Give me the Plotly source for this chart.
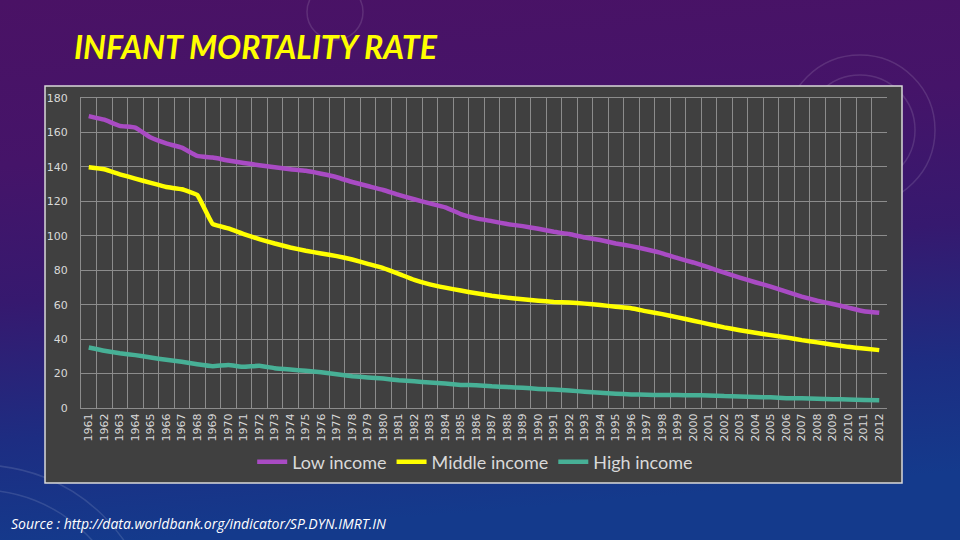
import base64
import plotly.graph_objects as go

years = [str(y) for y in range(1961, 2013)]

low_income = [169.5, 167.4, 163.8, 162.8, 157.0, 153.6, 151.2, 146.4, 145.4, 143.7,
              142.3, 141.0, 139.8, 138.6, 137.7, 136.0, 134.0, 131.2, 128.9, 126.6,
              123.7, 121.2, 118.8, 116.5, 112.6, 110.1, 108.5, 106.8, 105.6, 104.1,
              102.3, 101.0, 99.0, 97.5, 95.5, 94.0, 92.0, 89.8, 87.0, 84.5,
              81.6, 78.6, 75.7, 73.0, 70.5, 67.6, 64.7, 62.3, 60.4, 58.3,
              56.2, 55.3]
middle_income = [139.8, 138.6, 135.7, 133.2, 130.7, 128.3, 127.0, 123.7, 106.8, 104.3,
                 101.0, 98.1, 95.5, 93.2, 91.3, 89.7, 88.2, 86.2, 83.7, 81.2,
                 77.9, 74.4, 71.8, 69.9, 68.2, 66.6, 65.2, 64.1, 63.1, 62.3,
                 61.6, 61.2, 60.6, 59.8, 58.8, 57.9, 56.1, 54.5, 52.6, 50.7,
                 48.7, 46.8, 45.2, 43.7, 42.3, 41.0, 39.4, 38.1, 36.7, 35.5,
                 34.6, 33.6]
high_income = [35.1, 33.2, 31.8, 30.7, 29.3, 28.0, 26.8, 25.4, 24.3, 25.0,
               23.9, 24.5, 23.1, 22.3, 21.6, 20.8, 19.6, 18.5, 17.7, 17.1,
               16.1, 15.5, 14.8, 14.2, 13.4, 13.2, 12.6, 12.2, 11.7, 11.1,
               10.7, 10.1, 9.5, 8.8, 8.3, 7.9, 7.7, 7.5, 7.5, 7.4,
               7.3, 6.9, 6.7, 6.4, 6.2, 5.7, 5.6, 5.3, 5.1, 5.0,
               4.7, 4.5]

series_names = ["Low income", "Middle income", "High income"]
series_values = [low_income, middle_income, high_income]
series_colors = ["#a94bc4", "#ffff00", "#47b096"]

W, H = 960, 540

svg = f'''<svg xmlns="http://www.w3.org/2000/svg" width="{W}" height="{H}">
<defs>
<linearGradient id="g" x1="0" y1="0" x2="0.15" y2="1">
<stop offset="0" stop-color="#4a1265"/>
<stop offset="0.3" stop-color="#451469"/>
<stop offset="0.55" stop-color="#36196f"/>
<stop offset="0.8" stop-color="#1d2d82"/>
<stop offset="1" stop-color="#143a8c"/>
</linearGradient>
</defs>
<rect width="{W}" height="{H}" fill="url(#g)"/>
<g fill="none" stroke="#ffffff" stroke-opacity="0.12" stroke-width="1.5">
<circle cx="335" cy="12" r="28"/>
<circle cx="860" cy="130" r="55"/>
<circle cx="860" cy="130" r="75"/>
<circle cx="-20" cy="640" r="150"/>
<circle cx="-20" cy="640" r="175"/>
</g>
</svg>'''
bg_uri = "data:image/svg+xml;base64," + base64.b64encode(svg.encode()).decode()

fig = go.Figure()
for name, vals, col in zip(series_names, series_values, series_colors):
    fig.add_trace(go.Scatter(x=years, y=vals, name=name, mode="lines",
                             line=dict(color=col, width=4.5, shape="spline", smoothing=0.3)))

def px(x):
    return x / W

def py(y):
    return 1 - y / H

fig.update_layout(
    width=W, height=H,
    margin=dict(l=0, r=0, t=0, b=0, pad=0, autoexpand=False),
    paper_bgcolor="#2a1a6e",
    plot_bgcolor="#404040",
    images=[dict(source=bg_uri, xref="paper", yref="paper", x=0, y=1,
                 sizex=1, sizey=1, xanchor="left", yanchor="top",
                 sizing="stretch", layer="below")],
    shapes=[dict(type="rect", xref="paper", yref="paper",
                 x0=px(45), x1=px(902), y0=py(483), y1=py(86),
                 fillcolor="#404040", line=dict(color="#d9d9d9", width=1.5),
                 layer="below")],
    xaxis=dict(domain=[px(81), px(887)], type="category", tickson="boundaries",
               range=[-0.5, 51.5], showgrid=True, gridcolor="#8c8c8c", gridwidth=1,
               tickangle=-90, tickfont=dict(family="DejaVu Sans", size=11, color="#d9d9d9"),
               ticks="", showline=True, linecolor="#8c8c8c", mirror=True, zeroline=False,
               automargin=False),
    yaxis=dict(domain=[py(408), py(98)], range=[0, 180], dtick=20,
               showgrid=True, gridcolor="#8c8c8c", gridwidth=1,
               tickfont=dict(family="DejaVu Sans", size=11, color="#d9d9d9"),
               ticks="", showline=True, linecolor="#8c8c8c", zeroline=False,
               ticklabelstandoff=10, automargin=False),
    showlegend=True,
    legend=dict(orientation="h", x=0.495, xanchor="center", y=py(462), yanchor="middle",
                font=dict(family="Lato", size=18, color="#d9d9d9"),
                bgcolor="rgba(0,0,0,0)", itemwidth=30, tracegroupgap=0),
    annotations=[
        dict(text="<b><i>INFANT MORTALITY RATE</i></b>", xref="paper", yref="paper",
             x=px(72), y=py(47), xanchor="left", yanchor="middle", showarrow=False,
             font=dict(family="Lato", size=32, color="#ffff00")),
        dict(text="<i>Source : http://data.worldbank.org/indicator/SP.DYN.IMRT.IN</i>",
             xref="paper", yref="paper", x=px(9), y=py(523), xanchor="left",
             yanchor="middle", showarrow=False,
             font=dict(family="Open Sans", size=14, color="#ffffff")),
    ],
)

fig.write_html("out.html", config={"displayModeBar": False},
               post_script="document.body.style.margin='0';document.body.style.overflow='hidden';")
